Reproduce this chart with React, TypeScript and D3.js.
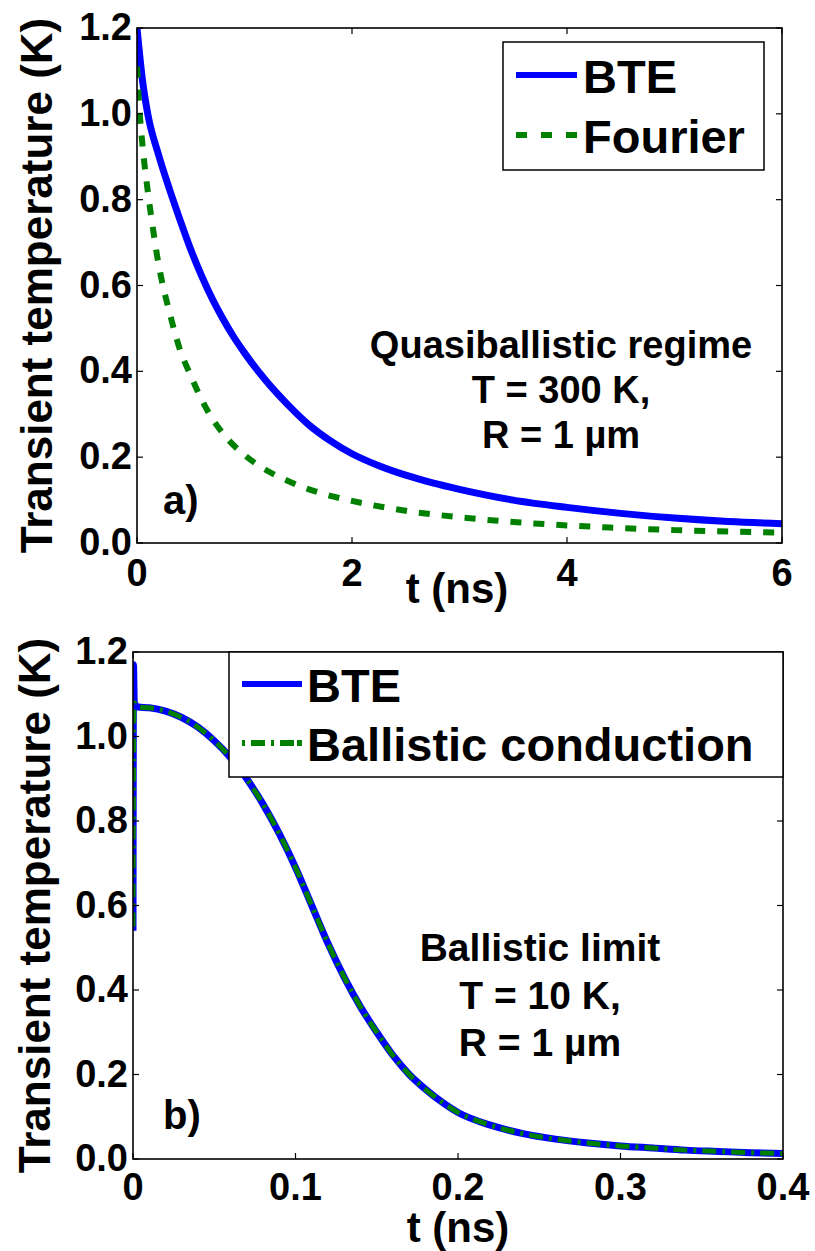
import React from "react";
import * as d3 from "d3";

// Panel a) data: t (ns) and transient temperature (K)
const aBteT = [0, 0.05, 0.1, 0.2, 0.3, 0.4, 0.5, 0.6, 0.7, 0.8, 0.9, 1.0, 1.2, 1.4, 1.6, 1.8, 2.0, 2.25, 2.5, 2.75, 3.0, 3.5, 4.0, 4.5, 5.0, 5.5, 6.0];
const aBteV = [1.2, 1.08, 1.0, 0.905, 0.826, 0.753, 0.684, 0.623, 0.569, 0.522, 0.48, 0.443, 0.378, 0.323, 0.275, 0.238, 0.208, 0.18, 0.158, 0.14, 0.125, 0.1, 0.083, 0.069, 0.058, 0.05, 0.045];
const aFourT = [0, 0.02, 0.05, 0.1, 0.15, 0.2, 0.25, 0.3, 0.4, 0.5, 0.6, 0.7, 0.8, 1.0, 1.2, 1.4, 1.6, 1.8, 2.0, 2.5, 3.0, 3.5, 4.0, 4.5, 5.0, 5.5, 6.0];
const aFourV = [1.11, 1.02, 0.93, 0.82, 0.73, 0.65, 0.59, 0.54, 0.45, 0.39, 0.335, 0.29, 0.255, 0.205, 0.17, 0.145, 0.125, 0.11, 0.098, 0.075, 0.06, 0.049, 0.041, 0.035, 0.03, 0.027, 0.024];

// Panel b) data
const bBteT = [0, 0.0003, 0.0008, 0.003, 0.01, 0.02, 0.03, 0.04, 0.05, 0.06, 0.07, 0.08, 0.09, 0.1, 0.11, 0.12, 0.13, 0.14, 0.15, 0.16, 0.17, 0.18, 0.19, 0.2, 0.22, 0.24, 0.26, 0.28, 0.3, 0.32, 0.34, 0.36, 0.38, 0.4];
const bBteV = [0.54, 1.17, 1.08, 1.07, 1.068, 1.06, 1.045, 1.022, 0.99, 0.95, 0.9, 0.84, 0.77, 0.69, 0.6, 0.51, 0.43, 0.36, 0.3, 0.245, 0.2, 0.165, 0.135, 0.11, 0.08, 0.06, 0.047, 0.038, 0.031, 0.026, 0.021, 0.018, 0.015, 0.013];
const bBalT = [0, 0.0006, 0.003, 0.01, 0.02, 0.03, 0.04, 0.05, 0.06, 0.07, 0.08, 0.09, 0.1, 0.11, 0.12, 0.13, 0.14, 0.15, 0.16, 0.17, 0.18, 0.19, 0.2, 0.22, 0.24, 0.26, 0.28, 0.3, 0.32, 0.34, 0.36, 0.38, 0.4];
const bBalV = [0.55, 1.08, 1.07, 1.068, 1.06, 1.045, 1.022, 0.99, 0.95, 0.9, 0.84, 0.77, 0.69, 0.6, 0.51, 0.43, 0.36, 0.3, 0.245, 0.2, 0.165, 0.135, 0.11, 0.08, 0.06, 0.047, 0.038, 0.031, 0.026, 0.021, 0.018, 0.015, 0.013];

const aXTicks = [0, 2, 4, 6];
const bXTicks = [0, 0.1, 0.2, 0.3, 0.4];
const yTicks = [0, 0.2, 0.4, 0.6, 0.8, 1.0, 1.2];

const yLabel = "Transient temperature (K)";
const xLabel = "t (ns)";
const aLegend = ["BTE", "Fourier"];
const bLegend = ["BTE", "Ballistic conduction"];
const aNote = ["Quasiballistic regime", "T = 300 K,", "R = 1 µm"];
const bNote = ["Ballistic limit", "T = 10 K,", "R = 1 µm"];

const FONT = "'Liberation Sans', Arial, Helvetica, sans-serif";
const BLUE = "#0000ff";
const GREEN = "#008000";

type Pt = [number, number];
const zip = (t: number[], v: number[]): Pt[] => t.map((x, i) => [x, v[i]]);

type LegendBox = { x0: number; x1: number; y0: number; y1: number; rows: number[]; lineX0: number; lineX1: number; textX: number };

function Panel(props: {
  id: string;
  x0: number; x1: number; y0: number; y1: number;
  xMax: number; xTicks: number[]; xFmt: (d: number) => string;
  s1: Pt[]; s2: Pt[]; dash2: string; legDash2: string; w1: number; w2: number;
  legend: string[]; leg: LegendBox;
  note: string[]; noteX: number; noteY: number[]; noteSize: number;
  letter: string; letterX: number; letterY: number;
  xLabelX: number; xLabelY: number; tickLabelY: number; yLabelX: number;
}) {
  const p = props;
  const x = d3.scaleLinear().domain([0, p.xMax]).range([p.x0, p.x1]);
  const y = d3.scaleLinear().domain([0, 1.2]).range([p.y1, p.y0]);
  const line = d3.line<Pt>().x((d) => x(d[0])).y((d) => y(d[1])).curve(d3.curveMonotoneX);
  const tl = 6;
  return (
    <g>
      <defs>
        <clipPath id={p.id}>
          <rect x={p.x0} y={p.y0 - 3} width={p.x1 - p.x0} height={p.y1 - p.y0 + 3} />
        </clipPath>
      </defs>
      <g clipPath={`url(#${p.id})`}>
        <path d={line(p.s1) || ""} fill="none" stroke={BLUE} strokeWidth={p.w1} strokeLinejoin="round" />
        <path d={line(p.s2) || ""} fill="none" stroke={GREEN} strokeWidth={p.w2} strokeDasharray={p.dash2} />
      </g>
      <rect x={p.x0} y={p.y0} width={p.x1 - p.x0} height={p.y1 - p.y0} fill="none" stroke="#000" strokeWidth={1.6} />
      {p.xTicks.map((t) => (
        <g key={"xt" + t}>
          <line x1={x(t)} x2={x(t)} y1={p.y1} y2={p.y1 - tl} stroke="#000" strokeWidth={1.2} />
          <line x1={x(t)} x2={x(t)} y1={p.y0} y2={p.y0 + tl} stroke="#000" strokeWidth={1.2} />
          <text x={x(t)} y={p.tickLabelY} textAnchor="middle" fontFamily={FONT} fontWeight="bold" fontSize={38}>{p.xFmt(t)}</text>
        </g>
      ))}
      {yTicks.map((t) => (
        <g key={"yt" + t}>
          <line x1={p.x0} x2={p.x0 + tl} y1={y(t)} y2={y(t)} stroke="#000" strokeWidth={1.2} />
          <line x1={p.x1} x2={p.x1 - tl} y1={y(t)} y2={y(t)} stroke="#000" strokeWidth={1.2} />
          <text x={p.x0 - 5} y={y(t) + 12} textAnchor="end" fontFamily={FONT} fontWeight="bold" fontSize={38}>{t.toFixed(1)}</text>
        </g>
      ))}
      <text x={p.xLabelX} y={p.xLabelY} textAnchor="middle" fontFamily={FONT} fontWeight="bold" fontSize={42}>{xLabel}</text>
      <text transform={`translate(${p.yLabelX},${(p.y0 + p.y1) / 2}) rotate(-90)`} textAnchor="middle" fontFamily={FONT} fontWeight="bold" fontSize={44}>{yLabel}</text>
      <rect x={p.leg.x0} y={p.leg.y0} width={p.leg.x1 - p.leg.x0} height={p.leg.y1 - p.leg.y0} fill="#fff" stroke="#000" strokeWidth={1.5} />
      {p.legend.map((s, i) => (
        <g key={s}>
          <line x1={p.leg.lineX0} x2={p.leg.lineX1} y1={p.leg.rows[i]} y2={p.leg.rows[i]} stroke={i === 0 ? BLUE : GREEN} strokeWidth={6} strokeDasharray={i === 0 ? undefined : p.legDash2} />
          <text x={p.leg.textX} y={p.leg.rows[i] + 18} fontFamily={FONT} fontWeight="bold" fontSize={47}>{s}</text>
        </g>
      ))}
      {p.note.map((s, i) => (
        <text key={s + i} x={p.noteX} y={p.noteY[i]} textAnchor="middle" fontFamily={FONT} fontWeight="bold" fontSize={p.noteSize}>{s}</text>
      ))}
      <text x={p.letterX} y={p.letterY} fontFamily={FONT} fontWeight="bold" fontSize={40}>{p.letter}</text>
    </g>
  );
}

export default function App() {
  return (
    <svg width={815} height={1251} style={{ position: "absolute", left: 0, top: 0, background: "#fff" }}>
      <rect width={815} height={1251} fill="#fff" />
      <Panel
        id="clipA" x0={137} x1={782} y0={28} y1={543} xMax={6} xTicks={aXTicks} xFmt={(d) => String(d)}
        s1={zip(aBteT, aBteV)} s2={zip(aFourT, aFourV)} dash2="11,12" legDash2="11,14" w1={7} w2={6}
        legend={aLegend}
        leg={{ x0: 503, x1: 764, y0: 42, y1: 170, rows: [75, 135], lineX0: 516, lineX1: 577, textX: 583 }}
        note={aNote} noteX={561} noteY={[358, 403, 448]} noteSize={38}
        letter="a)" letterX={163} letterY={514}
        xLabelX={457} xLabelY={603} tickLabelY={586} yLabelX={52}
      />
      <Panel
        id="clipB" x0={133} x1={783} y0={652} y1={1159} xMax={0.4} xTicks={bXTicks} xFmt={(d) => (d === 0 ? "0" : d.toFixed(1))}
        s1={zip(bBteT, bBteV)} s2={zip(bBalT, bBalV)} dash2="14,6,3,6" legDash2="3,6,14,6,3,6,14" w1={7} w2={5}
        legend={bLegend}
        leg={{ x0: 229, x1: 783, y0: 652, y1: 777, rows: [684, 743], lineX0: 242, lineX1: 302, textX: 307 }}
        note={bNote} noteX={540} noteY={[961, 1009, 1056]} noteSize={39}
        letter="b)" letterX={163} letterY={1129}
        xLabelX={458} xLabelY={1242} tickLabelY={1200} yLabelX={50}
      />
    </svg>
  );
}
